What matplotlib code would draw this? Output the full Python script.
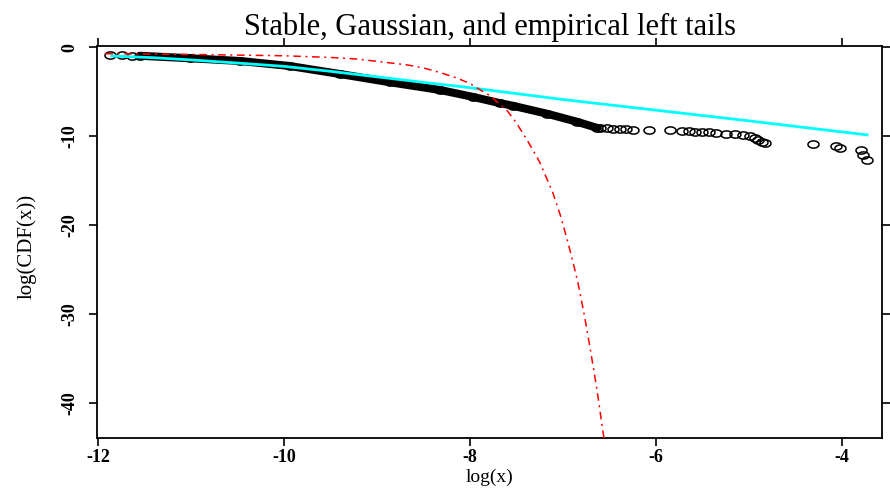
import numpy as np
import matplotlib
matplotlib.use("Agg")
import matplotlib.pyplot as plt
from matplotlib.path import Path

plt.rcParams['font.family'] = ['Liberation Serif', 'DejaVu Serif']

# empirical left tail: isolated points at the start, dense band, then the sparse far tail
emp_start_x = [-11.87, -11.74, -11.63]
emp_start_y = [-0.88, -0.88, -0.91]

band_x = [-11.55, -11.01, -10.47, -9.94, -9.40, -8.86, -8.32, -7.97, -7.68, -7.54, -7.17, -6.85, -6.63]
band_y = [-0.93, -1.21, -1.52, -2.08, -2.98, -3.91, -4.78, -5.55, -6.25, -6.55, -7.45, -8.35, -9.05]

tail_x = [-6.60, -6.53, -6.46, -6.39, -6.32, -6.25, -6.08, -5.85, -5.72, -5.65, -5.58,
          -5.51, -5.43, -5.35, -5.25, -5.15, -5.06, -4.99, -4.94, -4.90, -4.86, -4.83,
          -4.31, -4.06, -4.02, -3.80, -3.77, -3.73]
tail_y = [-9.08, -9.08, -9.15, -9.19, -9.19, -9.27, -9.27, -9.27, -9.34, -9.38, -9.46,
          -9.49, -9.53, -9.64, -9.72, -9.76, -9.83, -10.0, -10.2, -10.4, -10.6, -10.7,
          -10.84, -11.03, -11.26, -11.5, -12.04, -12.64]

# stable fit
stable_x = [-11.85, -11.4, -11.0, -10.5, -10.0, -9.5, -9.0, -8.5, -8.0, -7.0, -6.0, -5.0, -3.73]
stable_y = [-0.95, -1.15, -1.40, -1.75, -2.12, -2.68, -3.3, -3.92, -4.52, -5.85, -7.05, -8.25, -9.83]

# gaussian fit
gauss_x = [-11.92, -11.0, -10.0, -9.5, -9.21, -8.68, -8.5, -8.32, -8.15, -8.0, -7.9, -7.78,
           -7.7, -7.6, -7.5, -7.38, -7.25, -7.11, -7.03, -6.96, -6.9, -6.84, -6.77, -6.71,
           -6.67, -6.63, -6.6, -6.57, -6.55]
gauss_y = [-0.70, -0.78, -0.93, -1.12, -1.30, -1.95, -2.3, -2.82, -3.4, -4.05, -4.7, -5.45,
           -6.2, -7.1, -8.5, -10.5, -12.9, -16.3, -18.8, -21.4, -23.8, -26.4, -30.1, -33.7,
           -36.2, -38.8, -41.0, -43.2, -44.5]

xticks = [-12, -10, -8, -6, -4]
yticks = [0, -10, -20, -30, -40]

# slightly wide open circle, like the stretched original
t = np.linspace(0, 2 * np.pi, 25)
ell = Path(np.column_stack([np.cos(t), 0.65 * np.sin(t)]))

fig = plt.figure(figsize=(8.9, 4.91), dpi=100)
ax = fig.add_axes([0.109, 0.108, 0.882, 0.798])

ax.plot(band_x, band_y, color='black', lw=5.8, solid_capstyle='round', zorder=2)
ax.plot(band_x + emp_start_x + tail_x, band_y + emp_start_y + tail_y, ls='none',
        marker=ell, ms=8, mfc='none', mec='black', mew=1.1, zorder=2)
ax.plot(stable_x, stable_y, color='#00ffff', lw=2.0, zorder=3)
ax.plot(gauss_x, gauss_y, color='red', lw=1.1, ls=(0, (5, 3, 1.3, 3)), zorder=4)

ax.set_xlim(-12.01, -3.57)
ax.set_ylim(-43.9, 0.15)
ax.set_xticks(xticks)
ax.set_yticks(yticks)
ax.set_xticklabels([str(v) for v in xticks], fontsize=13, fontweight='bold')
ax.set_yticklabels([str(v) for v in yticks], fontsize=13, fontweight='bold',
                   rotation=90, va='center')
ax.tick_params(top=True, right=True, direction='out', length=5.5, width=1.2)
ax.tick_params(axis='x', pad=2.5)
ax.tick_params(axis='y', pad=8)
for s in ax.spines.values():
    s.set_linewidth(1.3)

ax.set_xlabel("log(x)", fontsize=14, va='center')
ax.xaxis.set_label_coords(0.5, -0.1)
ax.set_ylabel("log(CDF(x))", fontsize=15, va='center')
ax.yaxis.set_label_coords(-0.089, 0.49)
ax.set_title("Stable, Gaussian, and empirical left tails", fontsize=22, pad=8)

fig.savefig("out.png", dpi=100)
